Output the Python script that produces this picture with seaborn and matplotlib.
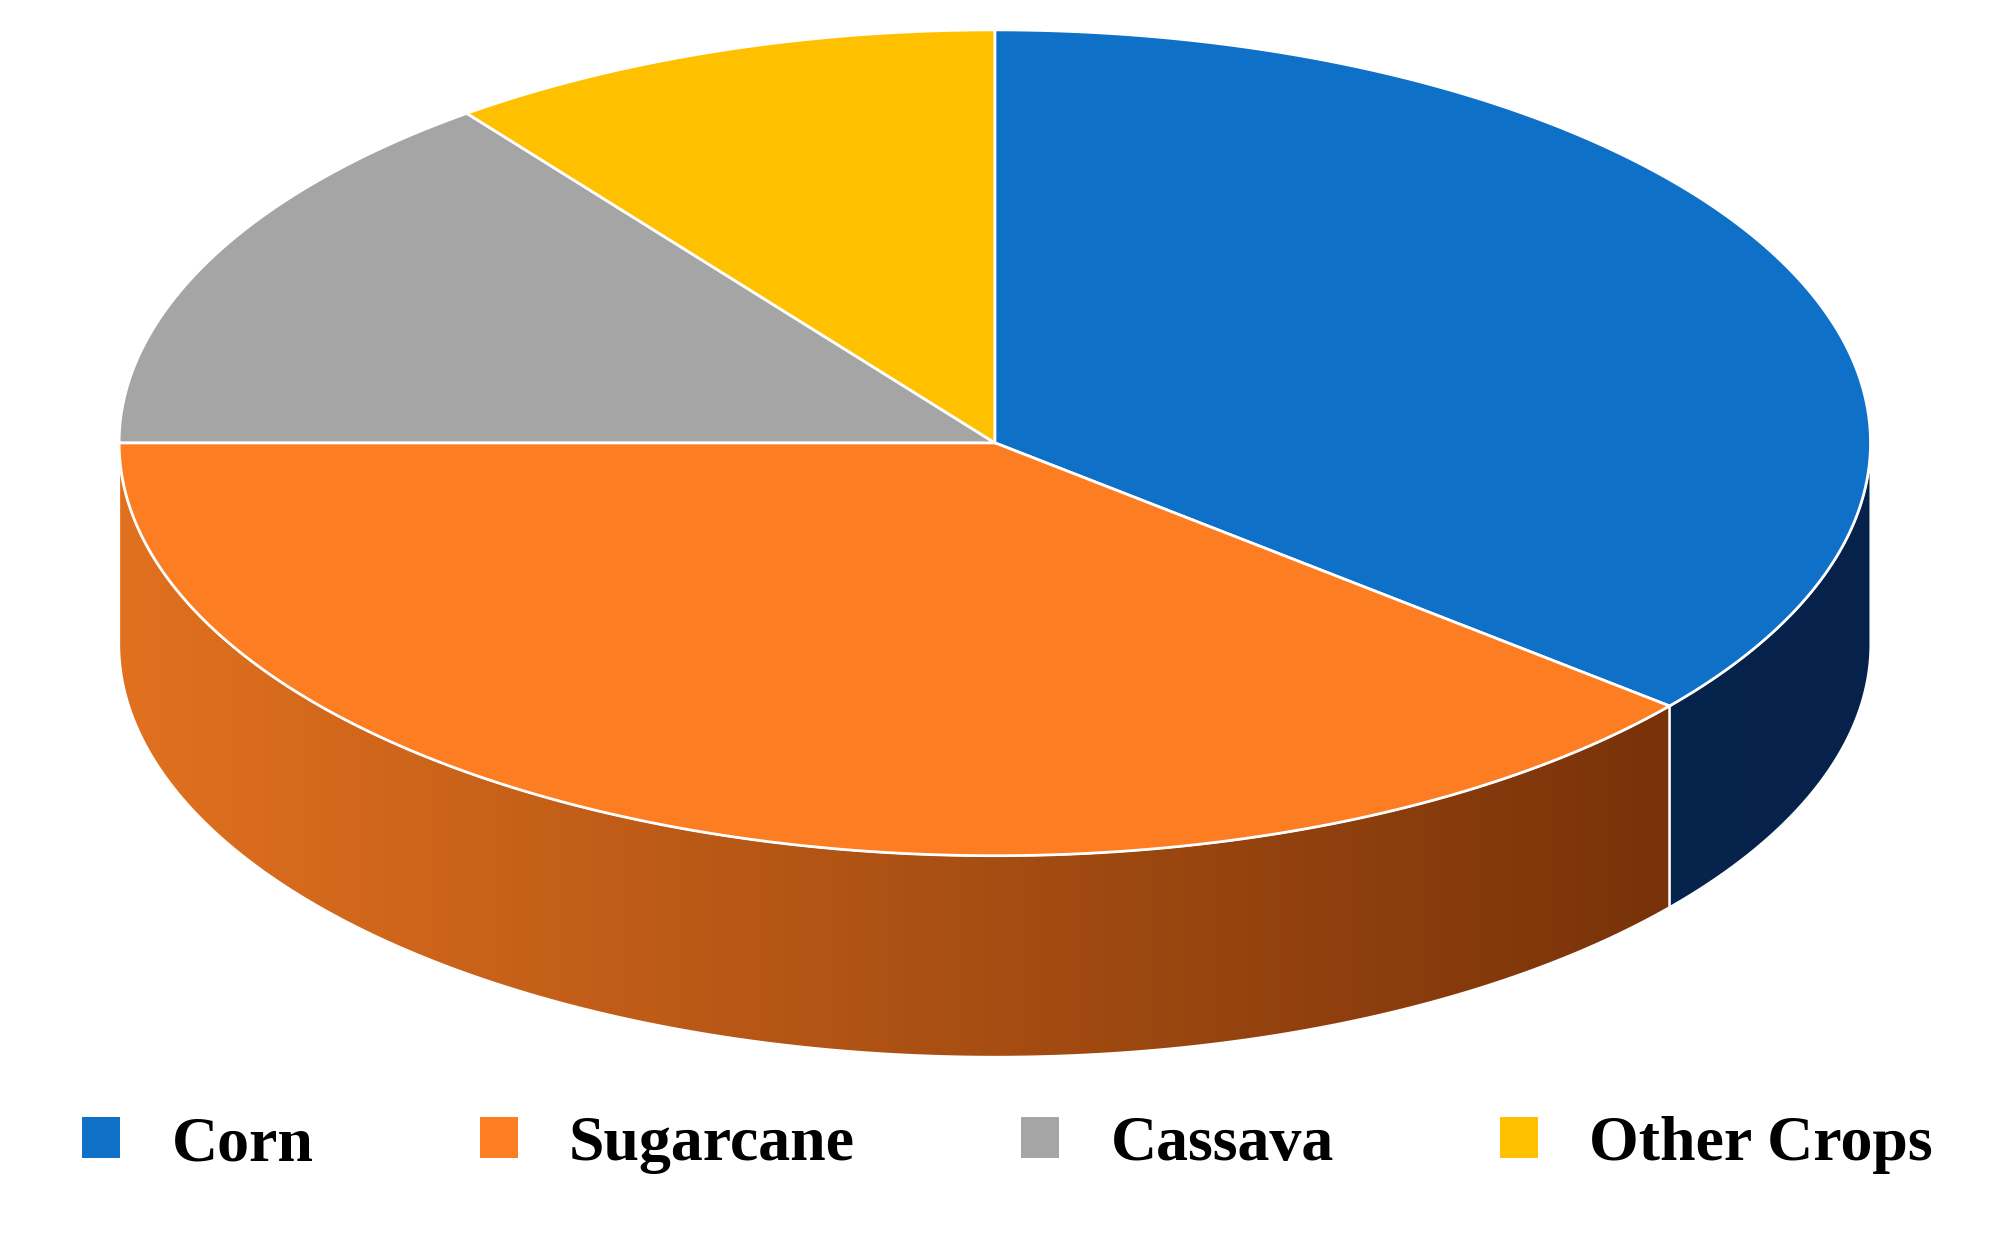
import numpy as np
import matplotlib
matplotlib.use("Agg")
import matplotlib.pyplot as plt
from matplotlib.patches import Polygon, Patch
from matplotlib.colors import LinearSegmentedColormap
import seaborn as sns

sns.set_style("white")

crops = ["Corn", "Sugarcane", "Cassava", "Other Crops"]
shares = [36.0, 39.0, 14.7, 10.3]
top_colors = ["#0e70c7", "#fd7d23", "#a5a5a5", "#ffc000"]
side_ramps = [("#0b2f5e", "#06224a"), ("#e2711f", "#6a2a06"),
              ("#7f7f7f", "#5a5a5a"), ("#c89600", "#9a7300")]

RY = 0.47     # vertical squash of the top face
DEPTH = 0.229

fig = plt.figure(figsize=(20.15, 12.44), dpi=100)
ax = fig.add_axes([0, 0, 1, 1])
ax.set_xlim(-1.136, 1.165)
ax.set_ylim(-0.912, 0.504)
ax.axis("off")

# wedge angles, clockwise from 12 o'clock
fracs = np.array(shares) / sum(shares)
starts = 90 - 360 * np.concatenate([[0], np.cumsum(fracs)[:-1]])
ends = starts - 360 * fracs


def pt(t, dz=0.0):
    r = np.radians(t)
    return np.cos(r), RY * np.sin(r) - dz


# side walls (front half only)
for s, e, ramp in zip(starts, ends, side_ramps):
    lo, hi = max(e, -180), min(s, 0)
    if hi <= lo:
        continue
    ts = np.linspace(hi, lo, 200)
    top = np.array([pt(t) for t in ts])
    bot = np.array([pt(t, DEPTH) for t in ts[::-1]])
    outline = np.vstack([top, bot])
    poly = Polygon(outline, closed=True, facecolor="none", edgecolor="none")
    ax.add_patch(poly)
    cmap = LinearSegmentedColormap.from_list("side", list(ramp))
    grad = np.linspace(0, 1, 256).reshape(1, -1)
    im = ax.imshow(grad, cmap=cmap, extent=(-1.01, 1.01, -RY - DEPTH - 0.01, 0.05),
                   aspect="auto", zorder=1)
    im.set_clip_path(poly)
    ax.add_patch(Polygon(outline, closed=True, facecolor="none",
                         edgecolor="white", linewidth=1.5, zorder=2))

# top face
for s, e, c in zip(starts, ends, top_colors):
    ts = np.linspace(s, e, 300)
    pts = np.vstack([[0, 0], [pt(t) for t in ts]])
    ax.add_patch(Polygon(pts, closed=True, facecolor=c, edgecolor="white",
                         linewidth=2, zorder=3))

handles = [Patch(facecolor=c, edgecolor="none") for c in top_colors]
leg = fig.legend(handles, crops, loc="lower center", bbox_to_anchor=(0.5, 0.01),
                 ncol=4, frameon=False, handlelength=0.6, handleheight=0.6,
                 columnspacing=2.6, handletextpad=0.8,
                 prop={"family": "Liberation Serif", "weight": "bold", "size": 46})
for t in leg.get_texts():
    t.set_color("black")

fig.savefig("out.png", dpi=100)
